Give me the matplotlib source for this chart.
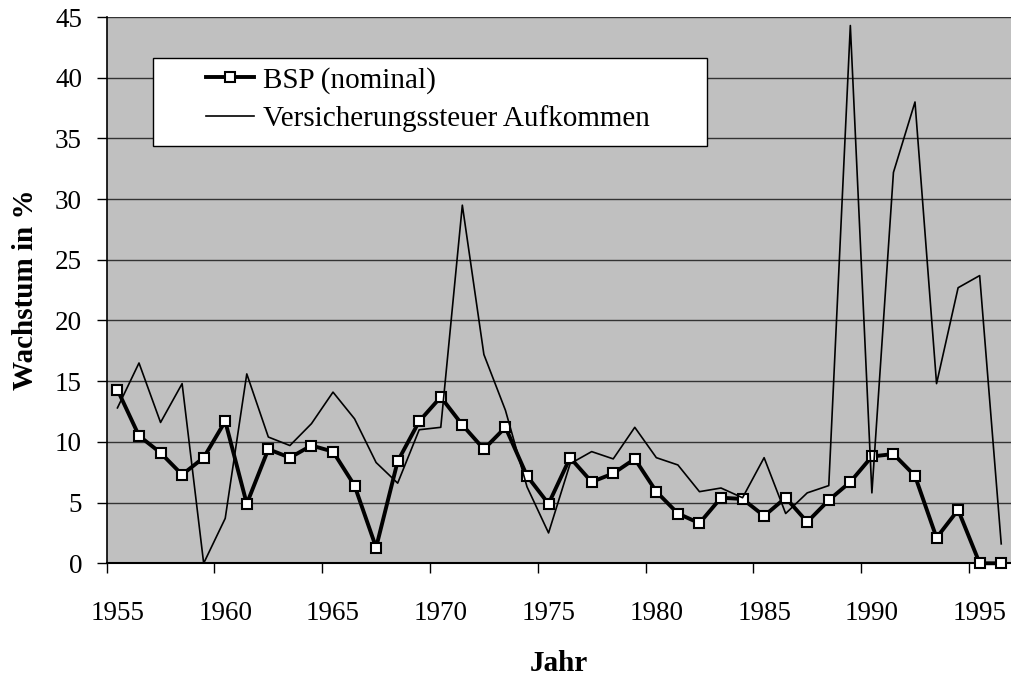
import matplotlib.pyplot as plt
from matplotlib.patches import Rectangle
from matplotlib.ticker import FixedLocator, NullFormatter

# Daten (Wachstum in %)
jahre = [1955, 1956, 1957, 1958, 1959, 1960, 1961, 1962, 1963, 1964,
         1965, 1966, 1967, 1968, 1969, 1970, 1971, 1972, 1973, 1974,
         1975, 1976, 1977, 1978, 1979, 1980, 1981, 1982, 1983, 1984,
         1985, 1986, 1987, 1988, 1989, 1990, 1991, 1992, 1993, 1994,
         1995, 1996]

bsp = [14.3, 10.5, 9.1, 7.3, 8.7, 11.7, 4.9, 9.4, 8.7, 9.7,
       9.2, 6.4, 1.3, 8.4, 11.7, 13.7, 11.4, 9.4, 11.2, 7.2,
       4.9, 8.7, 6.7, 7.4, 8.6, 5.9, 4.1, 3.3, 5.4, 5.3,
       3.9, 5.4, 3.4, 5.2, 6.7, 8.8, 9.0, 7.2, 2.1, 4.4,
       0.0, 0.0]

versicherungssteuer = [12.8, 16.5, 11.6, 14.8, 0.0, 3.7, 15.6, 10.4, 9.7, 11.5,
                       14.1, 11.9, 8.3, 6.6, 11.0, 11.2, 29.5, 17.2, 12.6, 6.3,
                       2.5, 8.2, 9.2, 8.6, 11.2, 8.7, 8.1, 5.9, 6.2, 5.4,
                       8.7, 4.1, 5.8, 6.4, 44.3, 5.8, 32.2, 38.0, 14.8, 22.7,
                       23.7, 1.6]

label_jahre = [1955, 1960, 1965, 1970, 1975, 1980, 1985, 1990, 1995]
y_ticks = [0, 5, 10, 15, 20, 25, 30, 35, 40, 45]

plt.rcParams['font.family'] = ['Liberation Serif', 'DejaVu Serif']

fig = plt.figure(figsize=(10.12, 6.78), dpi=100)
ax = fig.add_axes([0.1054, 0.1692, 0.8946, 0.8057])
ax.set_facecolor('#c0c0c0')

ax.plot(jahre, bsp, color='black', lw=2.8, marker='s', markersize=6.5,
        markerfacecolor='white', markeredgecolor='black', markeredgewidth=1.5,
        clip_on=False, zorder=3, label='BSP (nominal)')
ax.plot(jahre, versicherungssteuer, color='black', lw=1.2, zorder=4,
        label='Versicherungssteuer Aufkommen')

ax.set_xlim(jahre[0] - 0.5, jahre[-1] + 0.5)
ax.set_ylim(0, 45)

# Teilstriche zwischen den Kategorien, Beschriftung in der Mitte
ax.xaxis.set_major_locator(FixedLocator([j - 0.5 for j in label_jahre]))
ax.xaxis.set_major_formatter(NullFormatter())
ax.xaxis.set_minor_locator(FixedLocator(label_jahre))
ax.set_xticklabels([str(j) for j in label_jahre], minor=True)
ax.tick_params(axis='x', which='major', direction='out', length=7.2, width=1.0)
ax.tick_params(axis='x', which='minor', length=0, pad=27, labelsize=19.5)

ax.set_yticks(y_ticks)
ax.tick_params(axis='y', direction='out', length=7.2, width=1.0, pad=10.5,
               labelsize=19.5)

ax.grid(True, axis='y', color='#333333', lw=1.0)
ax.set_axisbelow(True)

for s in ['top', 'right']:
    ax.spines[s].set_visible(False)
ax.spines['left'].set_linewidth(1.2)
ax.spines['bottom'].set_linewidth(1.5)

ax.set_xlabel('Jahr', fontsize=21, fontweight='bold')
ax.xaxis.set_label_coords(0.5, -0.158)
ax.set_ylabel('Wachstum in %', fontsize=21, fontweight='bold')
ax.yaxis.set_label_coords(-0.075, 0.5)

# Legendenkasten
ax.add_patch(Rectangle((0.0511, 0.7639), 0.612, 0.1611, transform=ax.transAxes,
                       facecolor='white', edgecolor='black', lw=1.0, zorder=5))
ax.legend(loc='upper left', bbox_to_anchor=(0.1097, 0.909), borderaxespad=0,
          borderpad=0, frameon=False, fontsize=21, handlelength=1.65,
          handletextpad=0.3, labelspacing=0.38).set_zorder(6)

fig.savefig('out.png', dpi=100)
